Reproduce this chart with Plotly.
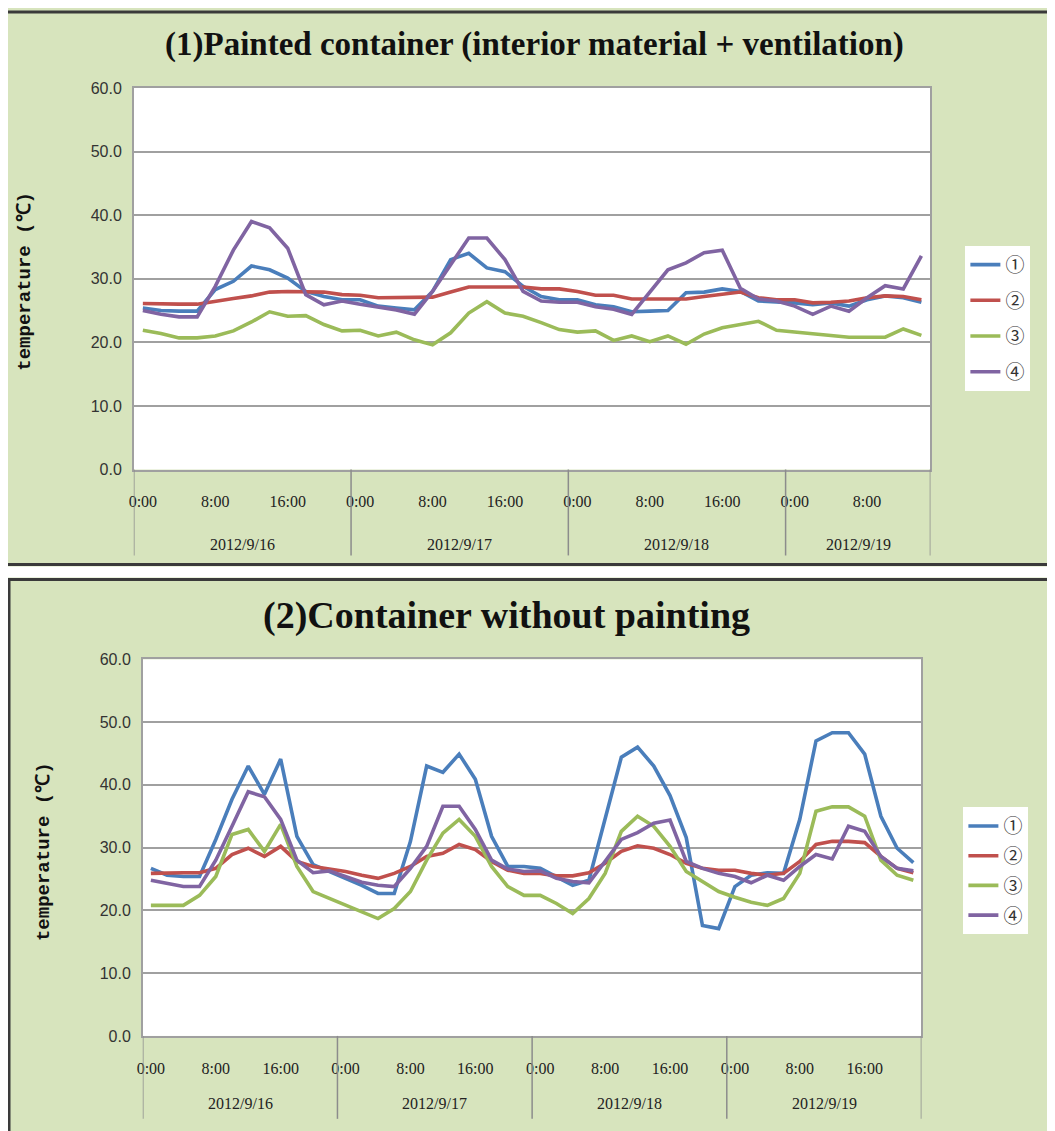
import plotly.graph_objects as go

W, H = 1055, 1131

# ---------------- data ----------------
days = ["2012/9/16", "2012/9/17", "2012/9/18", "2012/9/19"]
hours = ["0:00", "2:00", "4:00", "6:00", "8:00", "10:00",
         "12:00", "14:00", "16:00", "18:00", "20:00", "22:00"]
top_points_per_day = [12, 12, 12, 8]
bottom_points_per_day = [12, 12, 12, 12]
series_names = ["①", "②", "③", "④"]
series_colors = ["#4A7EBB", "#C0504D", "#9BBB59", "#8064A2"]
label_hours = ["0:00", "8:00", "16:00"]

top_s1 = [25.4, 25.0, 24.9, 24.9, 28.3, 29.6, 32.0, 31.4, 30.1, 28.0, 27.2, 26.7,
          26.7, 25.7, 25.4, 25.1, 28.0, 33.0, 34.0, 31.7, 31.1, 28.8, 27.2, 26.7,
          26.7, 25.9, 25.6, 24.8, 24.9, 25.0, 27.8, 27.9, 28.4, 28.0, 26.5, 26.4,
          26.2, 25.9, 26.2, 25.7, 26.7, 27.3, 27.0, 26.3]
top_s2 = [26.1, 26.0, 26.0, 26.0, 26.5, 26.9, 27.3, 27.9, 28.0, 28.0, 27.9, 27.5,
          27.4, 27.0, 27.0, 27.0, 27.1, 27.9, 28.7, 28.7, 28.7, 28.7, 28.4, 28.4,
          28.0, 27.4, 27.4, 26.8, 26.8, 26.8, 26.8, 27.2, 27.5, 27.9, 27.0, 26.7,
          26.7, 26.2, 26.3, 26.5, 27.0, 27.3, 27.2, 26.7]
top_s3 = [21.9, 21.4, 20.7, 20.7, 21.0, 21.8, 23.2, 24.8, 24.1, 24.2, 22.8, 21.8,
          21.9, 21.0, 21.6, 20.4, 19.6, 21.5, 24.6, 26.4, 24.6, 24.1, 23.1, 22.0,
          21.6, 21.8, 20.3, 21.0, 20.1, 21.0, 19.7, 21.3, 22.3, 22.8, 23.3, 21.9,
          21.6, 21.4, 21.0, 20.8, 20.8, 20.8, 22.1, 21.1]
top_s4 = [25.0, 24.4, 24.0, 24.0, 28.8, 34.5, 39.0, 38.0, 34.8, 27.5, 25.9, 26.5,
          26.0, 25.6, 25.1, 24.4, 28.0, 32.2, 36.4, 36.4, 33.0, 28.0, 26.5, 26.3,
          26.3, 25.6, 25.2, 24.4, 27.8, 31.4, 32.5, 34.1, 34.5, 28.5, 26.8, 26.5,
          25.7, 24.4, 25.7, 24.9, 27.0, 28.9, 28.4, 33.6]

bot_s1 = [26.7, 25.6, 25.4, 25.4, 31.3, 37.7, 43.0, 38.5, 44.1, 31.8, 27.3, 26.2,
          25.1, 24.0, 22.7, 22.7, 31.0, 43.0, 42.0, 44.9, 40.9, 31.8, 27.0, 27.0,
          26.7, 25.4, 24.0, 24.8, 34.5, 44.4, 46.0, 43.0, 38.3, 31.6, 17.6, 17.1,
          23.8, 25.6, 26.0, 25.9, 34.5, 47.0, 48.3, 48.3, 44.9, 35.0, 29.9, 27.6]
bot_s2 = [25.9, 26.0, 26.0, 26.0, 26.7, 28.9, 29.9, 28.6, 30.2, 27.8, 27.0, 26.6,
          26.2, 25.6, 25.1, 25.9, 27.0, 28.6, 29.1, 30.5, 29.7, 27.8, 26.4, 25.9,
          25.9, 25.5, 25.5, 26.0, 27.5, 29.4, 30.3, 29.9, 28.9, 27.5, 26.7, 26.4,
          26.4, 25.9, 25.6, 25.9, 27.8, 30.5, 31.0, 31.0, 30.8, 28.6, 26.7, 26.0]
bot_s3 = [20.8, 20.8, 20.8, 22.4, 25.4, 32.1, 32.9, 29.4, 33.7, 27.0, 23.0, 21.9,
          20.8, 19.8, 18.7, 20.3, 23.0, 28.0, 32.3, 34.5, 31.8, 27.0, 23.8, 22.4,
          22.4, 21.1, 19.5, 21.9, 25.9, 32.6, 35.0, 33.4, 30.2, 26.2, 24.6, 23.0,
          22.1, 21.3, 20.8, 21.9, 25.9, 35.8, 36.5, 36.5, 35.0, 28.0, 25.6, 24.8]
bot_s4 = [24.8, 24.3, 23.8, 23.8, 28.0, 33.4, 38.9, 38.1, 34.5, 28.0, 26.0, 26.3,
          25.4, 24.5, 24.0, 23.8, 26.7, 30.2, 36.6, 36.6, 32.9, 28.0, 26.6, 26.2,
          26.3, 25.1, 24.6, 24.4, 27.8, 31.3, 32.4, 33.9, 34.4, 27.8, 26.7, 25.9,
          25.4, 24.4, 25.6, 24.8, 27.0, 28.9, 28.2, 33.4, 32.6, 28.6, 26.7, 26.3]

top_series = [top_s1, top_s2, top_s3, top_s4]
bot_series = [bot_s1, bot_s2, bot_s3, bot_s4]

# ---------------- helpers ----------------
# reference pixel -> figure paper coordinate (compensating page offset)
def px(x):
    return ((x - 12) / 0.996) / W

def py(y):
    return 1 - ((y - 16) / 0.986) / H

def build_categories(counts):
    labels = []
    for n in counts:
        labels += hours[:n]
    return labels

top_cats = build_categories(top_points_per_day)
bot_cats = build_categories(bottom_points_per_day)

GREEN = "#D7E4BD"
GRID = "#A0A0A0"
DARK = "#3A3A3A"
SERIF = "Liberation Serif"

fig = go.Figure()

panels = [
    dict(series=top_series, cats=top_cats, counts=top_points_per_day,
         xa="x", ya="y", legend="legend", grp="t",
         xdom=[px(132), px(930)], ydom=[py(470), py(88)],
         bottom_px=470, div_end_px=556, date_px=545),
    dict(series=bot_series, cats=bot_cats, counts=bottom_points_per_day,
         xa="x2", ya="y2", legend="legend2", grp="b",
         xdom=[px(141), px(921)], ydom=[py(1037), py(660)],
         bottom_px=1037, div_end_px=1120, date_px=1105),
]

shapes = []
annotations = []

for p in panels:
    idx = list(range(len(p["cats"])))
    for k, (vals, name, col) in enumerate(zip(p["series"], series_names, series_colors)):
        fig.add_trace(go.Scatter(
            x=idx, y=vals, mode="lines", name=name,
            line=dict(color=col, width=3.6),
            xaxis=p["xa"], yaxis=p["ya"], legend=p["legend"],
            legendgroup=p["grp"] + str(k),
        ))
    start = 0
    bounds = [-0.5]
    for d, n in zip(days, p["counts"]):
        center = start + (n - 1) / 2
        annotations.append(dict(
            x=center, y=py(p["date_px"]), xref=p["xa"], yref="paper",
            text=d, showarrow=False, font=dict(family=SERIF, size=16, color="#222"),
            xanchor="center", yanchor="middle"))
        start += n
        bounds.append(start - 0.5)
    for b in bounds:
        shapes.append(dict(type="line", xref=p["xa"], yref="paper",
                           x0=b, x1=b, y0=py(p["bottom_px"]), y1=py(p["div_end_px"]),
                           line=dict(color="#8C8C8C", width=1.5)))

def tick_info(cats):
    vals = [i for i, c in enumerate(cats) if c in label_hours]
    text = [cats[i] for i in vals]
    return vals, text

for p, xname, yname in [(panels[0], "xaxis", "yaxis"), (panels[1], "xaxis2", "yaxis2")]:
    tv, tt = tick_info(p["cats"])
    fig.layout[xname] = dict(
        domain=p["xdom"], anchor=p["ya"], range=[-0.5, len(p["cats"]) - 0.5],
        tickvals=tv, ticktext=tt, ticks="", showgrid=False, zeroline=False,
        showline=True, linecolor=GRID, linewidth=1.5, mirror=True,
        tickfont=dict(family=SERIF, size=16, color="#222"), ticklabelstandoff=17)
    fig.layout[yname] = dict(
        domain=p["ydom"], anchor=p["xa"], range=[0, 60], dtick=10,
        tickformat=".1f", showgrid=True, gridcolor=GRID, gridwidth=1.5,
        zeroline=False, showline=True, linecolor=GRID, linewidth=1.5, mirror=True,
        ticks="", tickfont=dict(family="Liberation Sans", size=16, color="#333"),
        ticklabelstandoff=7)

# titles
annotations.append(dict(x=px(533), y=py(45), xref="paper", yref="paper",
                        xanchor="center", yanchor="middle",
                        text="<b>(1)Painted container (interior material + ventilation)</b>",
                        showarrow=False, font=dict(family=SERIF, size=33, color="#111")))
annotations.append(dict(x=px(505), y=py(616), xref="paper", yref="paper",
                        xanchor="center", yanchor="middle",
                        text="<b>(2)Container without painting</b>",
                        showarrow=False, font=dict(family=SERIF, size=38, color="#111")))
# y-axis titles
annotations.append(dict(x=px(23), y=py(281), xref="paper", yref="paper",
                        xanchor="center", yanchor="middle",
                        text="<b>temperature (℃)</b>", textangle=-90, showarrow=False,
                        font=dict(family="Liberation Mono", size=19, color="#111")))
annotations.append(dict(x=px(42), y=py(852), xref="paper", yref="paper",
                        xanchor="center", yanchor="middle",
                        text="<b>temperature (℃)</b>", textangle=-90, showarrow=False,
                        font=dict(family="Liberation Mono", size=19, color="#111")))

white = dict(color="white", width=0)
shapes += [
    dict(type="rect", xref="paper", yref="paper", x0=-0.02, x1=1.02, y0=py(578), y1=py(567),
         fillcolor="white", line=white, layer="below"),
    dict(type="rect", xref="paper", yref="paper", x0=-0.02, x1=px(3), y0=py(567), y1=1.02,
         fillcolor="white", line=white, layer="below"),
    dict(type="rect", xref="paper", yref="paper", x0=-0.02, x1=px(6), y0=-0.02, y1=py(578),
         fillcolor="white", line=white, layer="below"),
    dict(type="path", xref="paper", yref="paper",
         path=f"M {px(4)} {py(565)} L {px(4)} {py(12)} L 1.02 {py(12)}",
         line=dict(color=DARK, width=3)),
    dict(type="line", xref="paper", yref="paper", x0=px(4), x1=1.02, y0=py(565), y1=py(565),
         line=dict(color=DARK, width=3)),
    dict(type="path", xref="paper", yref="paper",
         path=f"M {px(7)} -0.02 L {px(7)} {py(580)} L 1.02 {py(580)}",
         line=dict(color=DARK, width=3)),
]

legend_common = dict(
    bgcolor="white", borderwidth=0, xanchor="left", yanchor="top",
    font=dict(family="Noto Sans CJK JP", size=19, color="#333"),
    itemclick=False, itemdoubleclick=False,
)

fig.update_layout(
    width=W, height=H,
    margin=dict(l=0, r=0, t=0, b=0),
    paper_bgcolor=GREEN, plot_bgcolor="white",
    showlegend=True,
    legend=dict(legend_common, x=px(965), y=py(246), tracegroupgap=8),
    legend2=dict(legend_common, x=px(963), y=py(808), tracegroupgap=2),
    shapes=shapes, annotations=annotations,
)

fig.write_html("out.html")
